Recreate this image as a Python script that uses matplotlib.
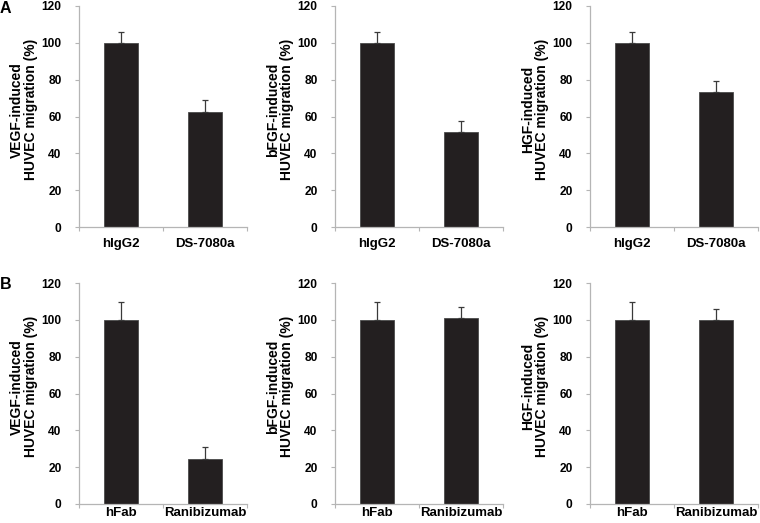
import matplotlib
matplotlib.use('Agg')
from matplotlib import pyplot as plt

plt.rcParams['font.family'] = ['Liberation Sans', 'DejaVu Sans']
plt.rcParams['font.weight'] = 'bold'

# row A: IgG2 vs DS-7080a, row B: Fab vs Ranibizumab
groups_a = ['hIgG2', 'DS-7080a']
groups_b = ['hFab', 'Ranibizumab']
factors = ['VEGF', 'bFGF', 'HGF']

means_a = [[100, 62.7], [100, 51.6], [100, 73.5]]
errs_a = [[5.7, 6.0], [5.7, 5.8], [5.7, 5.8]]
means_b = [[100, 24.5], [100, 101.0], [100, 99.7]]
errs_b = [[9.6, 6.3], [9.6, 6.2], [9.5, 6.3]]

bar_color = '#231f20'
axis_color = '#b5b5b5'

fig = plt.figure(figsize=(7.6, 5.23), dpi=100)

lefts = [79, 335, 590]
rows = [(227, groups_a, means_a, errs_a, 8), (504, groups_b, means_b, errs_b, 2.5)]


def draw_panel(ax, groups, means, errs, factor, xpad):
    x = list(range(len(groups)))
    ax.bar(x, means, width=0.41, color=bar_color, edgecolor='#4a4a4a',
           linewidth=0.6, zorder=2)
    ax.errorbar(x, means, yerr=[[0] * len(errs), errs], fmt='none',
                ecolor='#3a3a3a', elinewidth=0.9, capsize=2.5,
                capthick=0.9, zorder=3)
    ax.set_xlim(-0.5, 1.5)
    ax.set_ylim(0, 120)
    ax.set_yticks(range(0, 121, 20))
    ax.set_xticks([-0.5, 0.5, 1.5], minor=False)
    ax.set_xticklabels([])
    ax.set_xticks(x, minor=True)
    ax.set_xticklabels(groups, minor=True)
    ax.tick_params(axis='x', which='minor', length=0, pad=xpad, labelsize=9.5)
    ax.tick_params(axis='x', which='major', length=3, color=axis_color,
                   direction='out')
    ax.tick_params(axis='y', length=3, color=axis_color, labelsize=8.6,
                   pad=9.5)
    for s in ['top', 'right']:
        ax.spines[s].set_visible(False)
    for s in ['left', 'bottom']:
        ax.spines[s].set_color(axis_color)
        ax.spines[s].set_linewidth(0.9)
    ax.set_ylabel(f'{factor}-induced\nHUVEC migration (%)', fontsize=10,
                  fontweight='bold', linespacing=1.0)
    ax.yaxis.set_label_coords(-0.245, 0.53)


for bottom_px, groups, means, errs, xpad in rows:
    for i, left_px in enumerate(lefts):
        ax = fig.add_axes([left_px / 760, (523 - bottom_px) / 523,
                           168 / 760, 221 / 523])
        draw_panel(ax, groups, means[i], errs[i], factors[i], xpad)

fig.text(0.0, 1 - 1 / 523, 'A', fontsize=11.5, fontweight='bold', va='top')
fig.text(0.0, 1 - 277 / 523, 'B', fontsize=11.5, fontweight='bold', va='top')

fig.savefig('out.png', dpi=100)
